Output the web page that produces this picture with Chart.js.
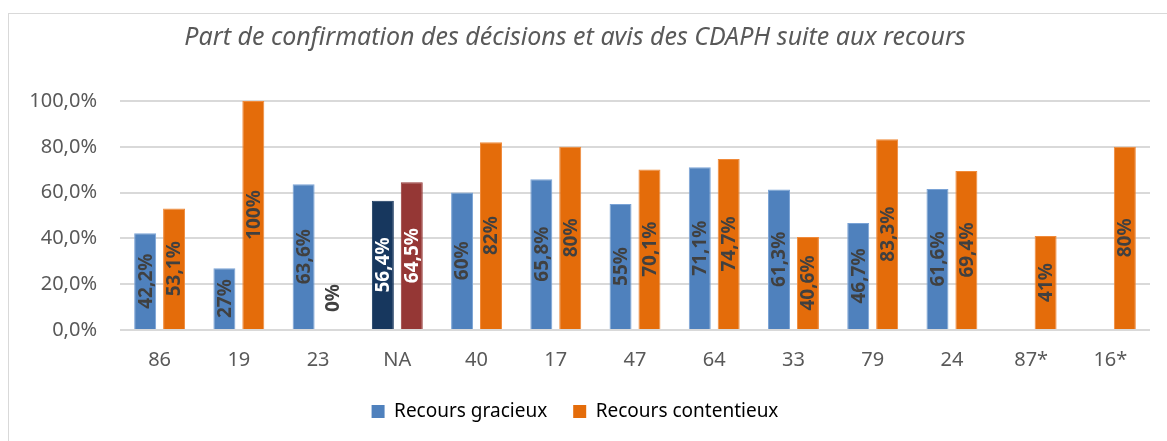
<!DOCTYPE html>
<html>
<head>
<meta charset="utf-8">
<script src="https://cdn.jsdelivr.net/npm/chart.js@4/dist/chart.umd.min.js"></script>
<style>
  body { margin: 0; background: #fff; }
  #wrap { position: relative; width: 1167px; height: 441px; overflow: hidden; }
  #frame { position: absolute; left: 8px; top: 13px; width: 1200px; height: 500px;
           border: 1px solid #d9d9d9; pointer-events: none; }
</style>
</head>
<body>
<div id="wrap">
  <canvas id="myChart" width="1167" height="441"></canvas>
  <div id="frame"></div>
</div>
<script>
const departements = ["86", "19", "23", "NA", "40", "17", "47", "64", "33", "79", "24", "87*", "16*"];
const recoursGracieux = [42.2, 27, 63.6, 56.4, 60, 65.8, 55, 71.1, 61.3, 46.7, 61.6, null, null];
const recoursContentieux = [53.1, 100, 0, 64.5, 82, 80, 70.1, 74.7, 40.6, 83.3, 69.4, 41, 80];
const yTicks = [0, 20, 40, 60, 80, 100];

const fmtLabel = (v) => String(v).replace(".", ",") + "%";

let blueColors = departements.map((d) => (d === "NA" ? "#17375e" : "#4f81bd"));
let orangeColors = departements.map((d) => (d === "NA" ? "#953735" : "#e46c0a"));

// etiquettes verticales dans les barres
let barLabels = {
    id: "barLabels",
    afterDatasetsDraw(chart) {
        let ctx = chart.ctx;
        ctx.save();
        ctx.font = "bold 19px 'Noto Sans'";
        ctx.textBaseline = "middle";
        ctx.textAlign = "center";
        chart.data.datasets.forEach((ds, i) => {
            let meta = chart.getDatasetMeta(i);
            meta.data.forEach((bar, j) => {
                let v = ds.data[j];
                if (v === null || v === undefined) return;
                let cy = (bar.y + bar.base) / 2;
                if (v === 0) cy = bar.base - 32;
                ctx.save();
                ctx.translate(bar.x, cy);
                ctx.rotate(-Math.PI / 2);
                ctx.fillStyle = departements[j] === "NA" ? "#ffffff" : "#404040";
                ctx.fillText(fmtLabel(v), 0, 1);
                ctx.restore();
            });
        });
        ctx.restore();
    },
};

var ctx = document.getElementById("myChart").getContext("2d");
var myChart = new Chart(ctx, {
    type: "bar",
    data: {
        labels: departements,
        datasets: [
            {
                label: "Recours gracieux",
                data: recoursGracieux,
                backgroundColor: blueColors,
                borderColor: departements.map((d) => (d === "NA" ? "#17375e" : "#7aa3d6")),
                borderWidth: 1,
                categoryPercentage: 0.73,
                barPercentage: 0.76,
            },
            {
                label: "Recours contentieux",
                data: recoursContentieux,
                backgroundColor: orangeColors,
                borderColor: departements.map((d) => (d === "NA" ? "#953735" : "#f08a3a")),
                borderWidth: 1,
                categoryPercentage: 0.73,
                barPercentage: 0.76,
            },
        ],
    },
    options: {
        responsive: false,
        animation: false,
        layout: { padding: { left: 0, right: 17, top: 0, bottom: 10 } },
        plugins: {
            title: {
                display: true,
                text: "Part de confirmation des décisions et avis des CDAPH suite aux recours",
                color: "#595959",
                font: { family: "'Noto Sans'", size: 25, style: "italic", weight: "normal" },
                padding: { top: 23, bottom: 48 },
            },
            legend: {
                position: "bottom",
                labels: {
                    generateLabels: (chart) => [
                        { text: "Recours gracieux", fillStyle: "#4f81bd", strokeStyle: "#4f81bd", lineWidth: 0, datasetIndex: 0 },
                        { text: "Recours contentieux", fillStyle: "#e46c0a", strokeStyle: "#e46c0a", lineWidth: 0, datasetIndex: 1 },
                    ],
                    color: "#595959",
                    font: { family: "'Noto Sans'", size: 19 },
                    boxWidth: 13,
                    boxHeight: 13,
                    padding: 26,
                },
            },
            tooltip: { enabled: false },
        },
        scales: {
            x: {
                grid: { display: false, drawTicks: false },
                border: { display: false },
                ticks: {
                    color: "#595959",
                    font: { family: "'Noto Sans'", size: 20 },
                    padding: 18,
                    maxRotation: 0,
                },
                afterFit: (scale) => { scale.height = 46; },
            },
            y: {
                min: 0,
                max: 100,
                afterBuildTicks: (scale) => { scale.ticks = yTicks.map((v) => ({ value: v })); },
                grid: { color: "#d9d9d9", lineWidth: 2, drawTicks: false },
                border: { display: false },
                ticks: {
                    color: "#595959",
                    font: { family: "'Noto Sans'", size: 20 },
                    padding: 23,
                    callback: (v) => v.toFixed(1).replace(".", ",") + "%",
                },
                afterFit: (scale) => { scale.width = 120; },
            },
        },
    },
    plugins: [barLabels],
});
</script>
</body>
</html>
